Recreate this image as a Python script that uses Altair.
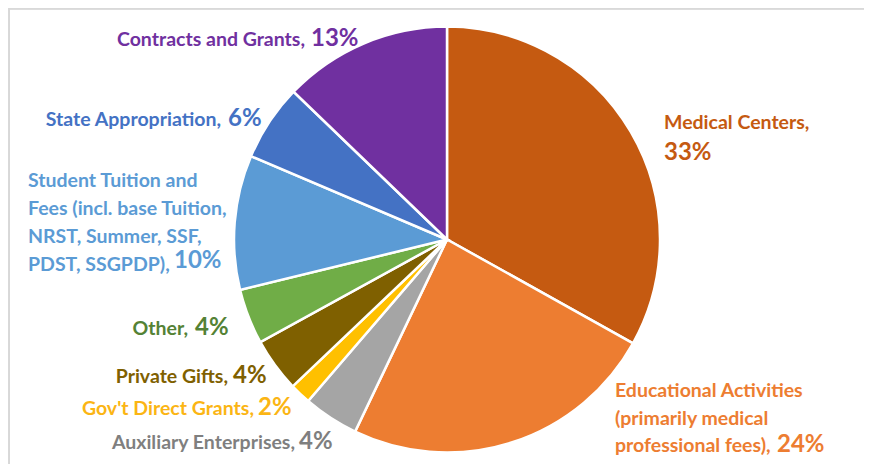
import altair as alt
import pandas as pd

# ---- data ----
categories = [
    "Medical Centers",
    "Educational Activities (primarily medical professional fees)",
    "Auxiliary Enterprises",
    "Gov't Direct Grants",
    "Private Gifts",
    "Other",
    "Student Tuition and Fees (incl. base Tuition, NRST, Summer, SSF, PDST, SSGPDP)",
    "State Appropriation",
    "Contracts and Grants",
]
values = [33.1, 24.0, 4.2, 1.6, 4.1, 4.2, 10.2, 5.8, 12.8]
pct_labels = ["33%", "24%", "4%", "2%", "4%", "4%", "10%", "6%", "13%"]
slice_colors = ["#c55a11", "#ed7d31", "#a5a5a5", "#ffc000", "#7f6000",
                "#70ad47", "#5b9bd5", "#4472c4", "#7030a0"]
text_colors = ["#c55a11", "#ed7d31", "#7f7f7f", "#fbb514", "#7f6000",
               "#548235", "#5b9bd5", "#4472c4", "#7030a0"]
label_lines = [
    ["Medical Centers,"],
    ["Educational Activities", "(primarily medical", "professional fees),"],
    ["Auxiliary Enterprises,"],
    ["Gov't Direct Grants,"],
    ["Private Gifts,"],
    ["Other,"],
    ["Student Tuition and", "Fees (incl. base Tuition,", "NRST, Summer, SSF,", "PDST, SSGPDP),"],
    ["State Appropriation,"],
    ["Contracts and Grants,"],
]

# ---- layout (label placement, chart pixel coordinates) ----
CX, CY, R = 439, 231.5, 213
NAME_SIZE, PCT_SIZE = 19.5, 24
FONT = "Lato"
# (name_x, name_align, first_baseline, line_step, pct_x, pct_baseline)
layout = [
    (656, "left", 121, 0, 656, 152),
    (607, "left", 389, 27.5, 769, 444),
    (287, "right", 441, 0, 291, 441),
    (246, "right", 407, 0, 250, 407),
    (220, "right", 375, 0, 225, 375),
    (180, "right", 327, 0, 187, 327),
    (20, "left", 179, 28, 166, 260),
    (213, "right", 118, 0, 220, 118),
    (297, "right", 38, 0, 303, 38),
]

pie_df = pd.DataFrame({
    "category": categories,
    "value": values,
    "idx": list(range(len(categories))),
})

name_rows, pct_rows = [], []
for i, lines in enumerate(label_lines):
    nx, al, y0, step, px, py = layout[i]
    for k, line in enumerate(lines):
        name_rows.append({"t": line, "x": nx, "y": y0 + k * step, "align": al,
                          "c": text_colors[i]})
    pct_rows.append({"t": pct_labels[i], "x": px, "y": py, "c": text_colors[i]})
name_df = pd.DataFrame(name_rows)
pct_df = pd.DataFrame(pct_rows)

W, H = 856, 456
xs = alt.Scale(domain=[0, W], nice=False, zero=False)
ys = alt.Scale(domain=[0, H], reverse=True, nice=False, zero=False)


def text_layer(df, size, align, flt=None):
    base = alt.Chart(df)
    if flt is not None:
        base = base.transform_filter(flt)
    return base.mark_text(
        font=FONT, fontSize=size, fontWeight="bold", align=align, baseline="alphabetic"
    ).encode(
        x=alt.X("x:Q", scale=xs, axis=None),
        y=alt.Y("y:Q", scale=ys, axis=None),
        text="t:N",
        color=alt.Color("c:N", scale=None),
    )


pie = alt.Chart(pie_df).mark_arc(
    radius=R, stroke="white", strokeWidth=2.5
).encode(
    theta=alt.Theta("value:Q", stack=True),
    order=alt.Order("idx:Q"),
    color=alt.Color("category:N", scale=alt.Scale(domain=categories, range=slice_colors),
                    legend=None),
    x=alt.value(CX),
    y=alt.value(CY),
)

name_left = text_layer(name_df, NAME_SIZE, "left", alt.datum.align == "left")
name_right = text_layer(name_df, NAME_SIZE, "right", alt.datum.align == "right")
pct = text_layer(pct_df, PCT_SIZE, "left")

frame_top = alt.Chart(pie_df).mark_rule(color="#d9d9d9", strokeWidth=1.5).encode(
    x=alt.value(1), x2=alt.value(W), y=alt.value(0.5)
)
frame_left = alt.Chart(pie_df).mark_rule(color="#d9d9d9", strokeWidth=1.5).encode(
    x=alt.value(1.2), y=alt.value(0), y2=alt.value(H)
)

chart = alt.layer(frame_top, frame_left, pie, name_left, name_right, pct).resolve_scale(
    color="independent"
).properties(
    width=W, height=H, padding=0,
    autosize=alt.AutoSizeParams(type="none"),
).configure_view(stroke=None)

chart.save("out.html", embed_options={"renderer": "svg", "actions": False})
